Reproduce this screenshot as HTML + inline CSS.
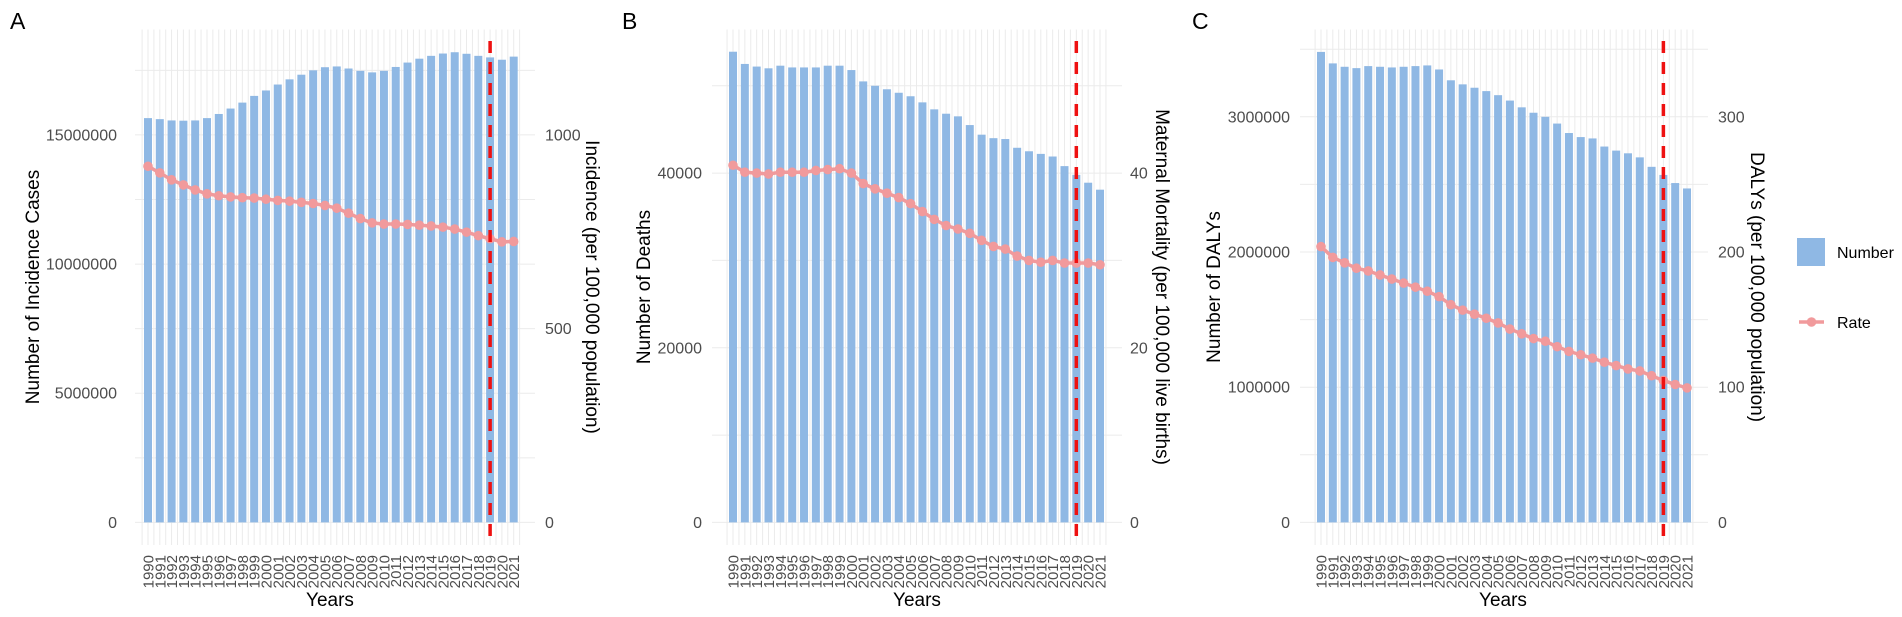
<!DOCTYPE html>
<html><head><meta charset="utf-8"><style>
html,body{margin:0;padding:0;background:#fff;}
svg{display:block;font-family:"Liberation Sans",Arial,sans-serif;}
</style></head><body>
<svg id="fig" width="1902" height="617" viewBox="0 0 1902 617" xmlns="http://www.w3.org/2000/svg"></svg>
<script>
const years = [1990,1991,1992,1993,1994,1995,1996,1997,1998,1999,2000,2001,2002,2003,2004,2005,2006,2007,2008,2009,2010,2011,2012,2013,2014,2015,2016,2017,2018,2019,2020,2021];
const incidenceCases = [15.65,15.61,15.56,15.55,15.56,15.65,15.81,16.02,16.25,16.51,16.72,16.95,17.15,17.33,17.5,17.62,17.65,17.57,17.48,17.42,17.48,17.63,17.8,17.95,18.06,18.15,18.2,18.14,18.06,18.0,17.91,18.03].map(v=>v*1e6);
const incidenceRate = [919,902,884,871,858,848,843,840,838,837,834,831,829,826,823,818,811,798,784,773,770,770,769,767,765,762,757,749,740,732,724,725];
const deathCount = [53900,52500,52200,52000,52300,52100,52100,52100,52300,52300,51800,50500,50000,49600,49200,48800,48100,47300,46800,46500,45500,44400,44000,43900,42900,42500,42200,41900,40800,39800,38900,38100];
const mortalityRate = [40.9,40.1,40.0,39.9,40.1,40.1,40.1,40.3,40.4,40.5,40.0,38.8,38.2,37.7,37.2,36.5,35.6,34.7,34.0,33.6,33.1,32.3,31.6,31.3,30.5,30.0,29.8,30.0,29.7,29.7,29.7,29.5];
const dalyCount = [3.48,3.395,3.37,3.36,3.375,3.37,3.365,3.37,3.375,3.38,3.35,3.27,3.24,3.215,3.19,3.16,3.12,3.07,3.03,3.0,2.95,2.88,2.85,2.84,2.78,2.75,2.73,2.70,2.63,2.57,2.51,2.47].map(v=>v*1e6);
const dalyRate = [204,196,192,188,186,183,180,177,174,171,167,161,157,154,151,147.5,143,139.5,136,134,130,126.5,124,121.5,118.5,116,113.5,112,108.5,105,102,99.5];
const leftTicksA = [0,5000000,10000000,15000000];
const rightTicksA = [0,500,1000];
const leftTicksB = [0,20000,40000];
const rightTicksB = [0,20,40];
const leftTicksC = [0,1000000,2000000,3000000];
const rightTicksC = [0,100,200,300];
const markerYear = 2019;

const NS="http://www.w3.org/2000/svg";
const svg=document.getElementById('fig');
function mk(tag,attrs,parent){const e=document.createElementNS(NS,tag);for(const k in attrs)e.setAttribute(k,attrs[k]);(parent||svg).appendChild(e);return e;}

const panels=[
 {id:'a',letter:'A',lx:10,px0:135,px1:535,b0:148,b1:513.7,y0:522.4,lmax:15e6,lpx:387.5,rmax:1000,minorStep:2.5e6,minorTop:17.5e6,
  bars:incidenceCases,rate:incidenceRate,lt:leftTicksA,rt:rightTicksA,lLabX:117,lTitle:'Number of Incidence Cases',lTitleX:32,
  rLabX:545,rTitle:'Incidence (per 100,000 population)',rTitleX:593,yearsX:330},
 {id:'b',letter:'B',lx:622,px0:712,px1:1122,b0:733,b1:1100,y0:522.4,lmax:40000,lpx:349.3,rmax:40,minorStep:10000,minorTop:50000,
  bars:deathCount,rate:mortalityRate,lt:leftTicksB,rt:rightTicksB,lLabX:702,lTitle:'Number of Deaths',lTitleX:643,
  rLabX:1130,rTitle:'Maternal Mortality (per 100,000 live births)',rTitleX:1163,yearsX:917},
 {id:'c',letter:'C',lx:1192,px0:1300,px1:1708,b0:1321,b1:1687,y0:522.4,lmax:3e6,lpx:405.6,rmax:300,minorStep:5e5,minorTop:3.5e6,
  bars:dalyCount,rate:dalyRate,lt:leftTicksC,rt:rightTicksC,lLabX:1290,lTitle:'Number of DALYs',lTitleX:1213,
  rLabX:1718,rTitle:'DALYs (per 100,000 population)',rTitleX:1758,yearsX:1503}
];

panels.forEach(p=>{
  const g=mk('g',{});
  
  
  const n=years.length, step=(p.b1-p.b0)/(n-1);
  const xS=i=>p.b0+i*step;
  const yL=v=>p.y0-v/p.lmax*p.lpx;
  const yR=v=>p.y0-v/p.rmax*p.lpx;
  for(let v=0;v<=p.minorTop+1;v+=p.minorStep){
    const gl=mk('line',{x1:p.px0,x2:p.px1,y1:yL(v),y2:yL(v),stroke:'#ebebeb','stroke-width':1},g);
    
    
  }
  for(let i=-0.5;i<=n-0.5;i+=0.5){
    const x=xS(i); if(x<p.px0||x>p.px1)continue;
    const gl=mk('line',{x1:x,x2:x,y1:29.5,y2:545,stroke:'#ebebeb','stroke-width':1},g);
    
    
  }
  p.bars.forEach((v,i)=>{
    const r=mk('rect',{x:xS(i)-4,y:yL(v),width:8,height:p.y0-yL(v),fill:'#8fb8e4'},g);
    
    
  });
  const pts=p.rate.map((v,i)=>xS(i)+','+yR(v)).join(' ');
  const pl=mk('polyline',{points:pts,fill:'none',stroke:'#f19a9c','stroke-width':3.5},g);
  
  
  p.rate.forEach((v,i)=>{
    const c=mk('circle',{cx:xS(i),cy:yR(v),r:4.8,fill:'#f19a9c'},g);
    
    
  });
  const mx=xS(years.indexOf(markerYear));
  const ml=mk('line',{x1:mx,x2:mx,y1:41,y2:545,stroke:'#ee1111','stroke-width':3.5,'stroke-dasharray':'12,9'},g);
  
  
  p.lt.forEach(v=>{
    const t=mk('text',{x:p.lLabX,y:yL(v)+5.5,'text-anchor':'end','font-size':16,fill:'#4d4d4d'},g);
    t.textContent=String(v);
    
    
  });
  p.rt.forEach(v=>{
    const t=mk('text',{x:p.rLabX,y:yR(v)+5.5,'text-anchor':'start','font-size':16,fill:'#4d4d4d'},g);
    t.textContent=String(v);
    
    
  });
  years.forEach((yr,i)=>{
    const t=mk('text',{x:0,y:0,'text-anchor':'end','font-size':15,fill:'#4d4d4d',transform:`translate(${xS(i)+5.5},555) rotate(-90)`},g);
    t.textContent=String(yr);
    
    
  });
  const lt=mk('text',{x:0,y:0,'text-anchor':'middle','font-size':19,fill:'#000',transform:`translate(${p.lTitleX+7},287) rotate(-90)`},g);
  lt.textContent=p.lTitle;
  
  
  const rt=mk('text',{x:0,y:0,'text-anchor':'middle','font-size':19,fill:'#000',transform:`translate(${p.rTitleX-7},287) rotate(90)`},g);
  rt.textContent=p.rTitle;
  
  
  const xt=mk('text',{x:p.yearsX,y:606,'text-anchor':'middle','font-size':19,fill:'#000'},g);
  xt.textContent='Years';
  
  
  const L=mk('text',{x:p.lx,y:29,'font-size':23,fill:'#000'},g);
  L.textContent=p.letter;
  
  
});

const lg=mk('g',{});


const lb=mk('rect',{x:1797,y:238,width:28,height:28,fill:'#8fb8e4'},lg);


const lt1=mk('text',{x:1837,y:258,'font-size':16,fill:'#000'},lg);
lt1.textContent='Number';


const ll=mk('line',{x1:1799,x2:1824,y1:322,y2:322,stroke:'#f19a9c','stroke-width':3.5},lg);


const lc=mk('circle',{cx:1811.5,cy:322,r:4.8,fill:'#f19a9c'},lg);


const lt2=mk('text',{x:1837,y:328,'font-size':16,fill:'#000'},lg);
lt2.textContent='Rate';


</script>
</body></html>
